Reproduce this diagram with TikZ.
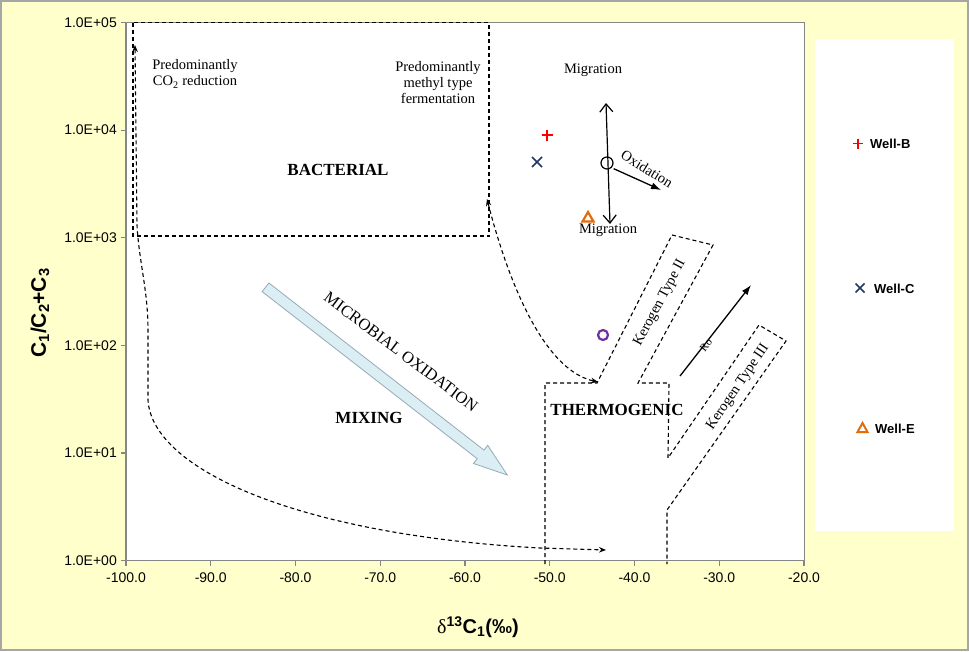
\documentclass[tikz,border=0pt]{standalone}
\usepackage{fontspec}
\setmainfont{Liberation Serif}
\setsansfont{Liberation Sans}
\usetikzlibrary{arrows.meta}
\definecolor{bgyellow}{HTML}{FFFFCC}
\definecolor{axisgray}{HTML}{868686}
\definecolor{framegray}{HTML}{A6A6A6}
\definecolor{wellB}{HTML}{FF0000}
\definecolor{wellC}{HTML}{1F3864}
\definecolor{wellE}{HTML}{E36C09}
\definecolor{ptpurple}{HTML}{7030A0}
\definecolor{mofill}{HTML}{DAEEF3}
\definecolor{mostroke}{HTML}{95AAB8}
\tikzset{
  zone/.style={draw=black, line width=1.1pt, dash pattern=on 4pt off 3pt},
  stealthtip/.tip={Stealth[length=7pt,width=5.5pt]},
  barbtip/.tip={Straight Barb[length=8pt,width=13pt,line width=1.2pt]},
  filltip/.tip={Latex[length=10pt,width=7pt]},
  ticklbl/.style={font=\sffamily\fontsize{14}{16}\selectfont, inner sep=0pt},
  annot/.style={font=\fontsize{14.5}{16}\selectfont, align=center, inner sep=0pt},
  region/.style={font=\bfseries\fontsize{17}{20}\selectfont, inner sep=0pt},
  legtext/.style={font=\sffamily\bfseries\fontsize{13}{15}\selectfont, anchor=west, inner sep=0pt},
}
\begin{document}
\begin{tikzpicture}[x=1pt,y=-1pt]
\useasboundingbox (0,0) rectangle (969,651);
% background and frame
\fill[bgyellow, draw=framegray, line width=2pt] (1,1) rectangle (968,650);
% plot area
\fill[white, draw=axisgray, line width=0.9pt] (126,22.5) rectangle (804,560.5);
\draw[axisgray, line width=1.6pt] (126,22.5) -- (126,560.5) -- (804,560.5);
% legend area
\fill[white] (815,39) rectangle (954,531);

% y ticks
\foreach \i/\lbl in {0/1.0E+05,1/1.0E+04,2/1.0E+03,3/1.0E+02,4/1.0E+01,5/1.0E+00}{
  \pgfmathsetmacro{\yy}{22.5+107.6*\i}
  \draw[axisgray, line width=1.2pt] (121,\yy) -- (126,\yy);
  \node[ticklbl, anchor=east] (yt\i) at (117,\yy) {\lbl};
}
% x ticks
\foreach \i/\lbl in {0/-100.0,1/-90.0,2/-80.0,3/-70.0,4/-60.0,5/-50.0,6/-40.0,7/-30.0,8/-20.0}{
  \pgfmathsetmacro{\xx}{126+84.75*\i}
  \draw[axisgray, line width=1.2pt] (\xx,560.5) -- (\xx,566);
  \node[ticklbl] (xt\i) at (\xx,578) {\lbl};
}
% axis titles
\node[rotate=90, font=\sffamily\bfseries\fontsize{21}{24}\selectfont, inner sep=0pt] (ylab) at (40,313) {C\textsubscript{1}/C\textsubscript{2}+C\textsubscript{3}};
\node[font=\sffamily\bfseries\fontsize{20}{24}\selectfont, inner sep=0pt] (xlab) at (478,627) {{\rmfamily\mdseries δ}\textsuperscript{13}C\textsubscript{1}(‰)};

% bacterial zone
\draw[zone] (133,22.5) rectangle (489,236);
% thermogenic zone with kerogen bands
\draw[zone] (545,564) -- (545,383) -- (597,383) -- (672,235) -- (713,245) -- (638,383)
  -- (669,383) -- (668,458) -- (759,325) -- (786,341) -- (667,510) -- (667,564);
% mixing curve
\coordinate (c1a) at (135,45);
\coordinate (c1b) at (606,550);
\draw[zone, stealthtip-stealthtip] (c1a) -- (137,225) .. controls (139,262) and (148,290) .. (148,330)
  -- (148,400) .. controls (152,470) and (300,535) .. (540,548) -- (c1b);
% bacterial to thermogenic curve
\coordinate (c2a) at (487,199);
\coordinate (c2b) at (598,382);
\draw[zone, stealthtip-stealthtip] (c2a) .. controls (500,250) and (535,368) .. (c2b);

% microbial oxidation block arrow
\filldraw[fill=mofill, draw=mostroke, line width=0.8pt]
  (262.1,291.6) -- (268.9,283.0) -- (484.0,450.1) -- (487.7,445.3) -- (507.3,475)
  -- (473.5,463.5) -- (477.2,458.7) -- cycle;

% migration / oxidation
\node[draw=black, circle, line width=1.2pt, minimum size=12pt, inner sep=0pt] (ctr) at (607,163) {};
\coordinate (migtop) at (606,103);
\coordinate (migbot) at (610,224);
\draw[line width=1.2pt, barbtip-barbtip] (migtop) -- (migbot);
\coordinate (oxend) at (661,190);
\draw[line width=1.3pt, -filltip] (ctr.south east) ++(2,1) -- (oxend);
% Ro arrow
\coordinate (roa) at (680,376);
\coordinate (rob) at (751,285);
\draw[line width=1.3pt, -filltip] (roa) -- (rob);

% data points
\draw[wellB, line width=1.7pt] (541.5,135) -- (552.5,135) (547,129.5) -- (547,140.5);
\draw[wellC, line width=1.7pt] (532,157) -- (542,167) (532,167) -- (542,157);
\draw[wellE, line width=2.2pt, line join=miter] (588,212) -- (593.5,221.5) -- (582.5,221.5) -- cycle;
\draw[ptpurple, line width=2.2pt] (603,335) circle (5);

% texts
\node[annot] (co2) at (195,74) {Predominantly\\CO\textsubscript{2} reduction};
\node[annot] (methyl) at (438,83) {Predominantly\\methyl type\\fermentation};
\node[region] (bact) at (338,170) {BACTERIAL};
\node[annot] (migt) at (593,70) {Migration};
\node[annot] (migb) at (608,230) {Migration};
\node[annot, rotate=-32] (oxi) at (647,169) {Oxidation};
\node[region] (mix) at (369,418) {MIXING};
\node[annot, font=\fontsize{16.5}{18}\selectfont, rotate=-37] (mo) at (401,352) {MICROBIAL OXIDATION};
\node[region] (thermo) at (617,410) {THERMOGENIC};
\node[annot, rotate=62] (k2) at (660,303) {Kerogen Type II};
\node[annot, rotate=56] (k3) at (738,387) {Kerogen Type III};
\node[annot, font=\fontsize{11}{12}\selectfont, rotate=52] (ro) at (706,345) {Ro};

% legend
\draw[wellB, line width=1.7pt] (853,143.5) -- (863,143.5) (858,138.5) -- (858,148.5);
\node[legtext] (lb) at (870,143.5) {Well-B};
\draw[wellC, line width=1.7pt] (855.5,283.5) -- (864.5,292.5) (855.5,292.5) -- (864.5,283.5);
\node[legtext] (lc) at (874,288.5) {Well-C};
\draw[wellE, line width=2pt, line join=miter] (862.5,423) -- (867.5,432) -- (857.5,432) -- cycle;
\node[legtext] (le) at (875,428.5) {Well-E};
\end{tikzpicture}
\end{document}
